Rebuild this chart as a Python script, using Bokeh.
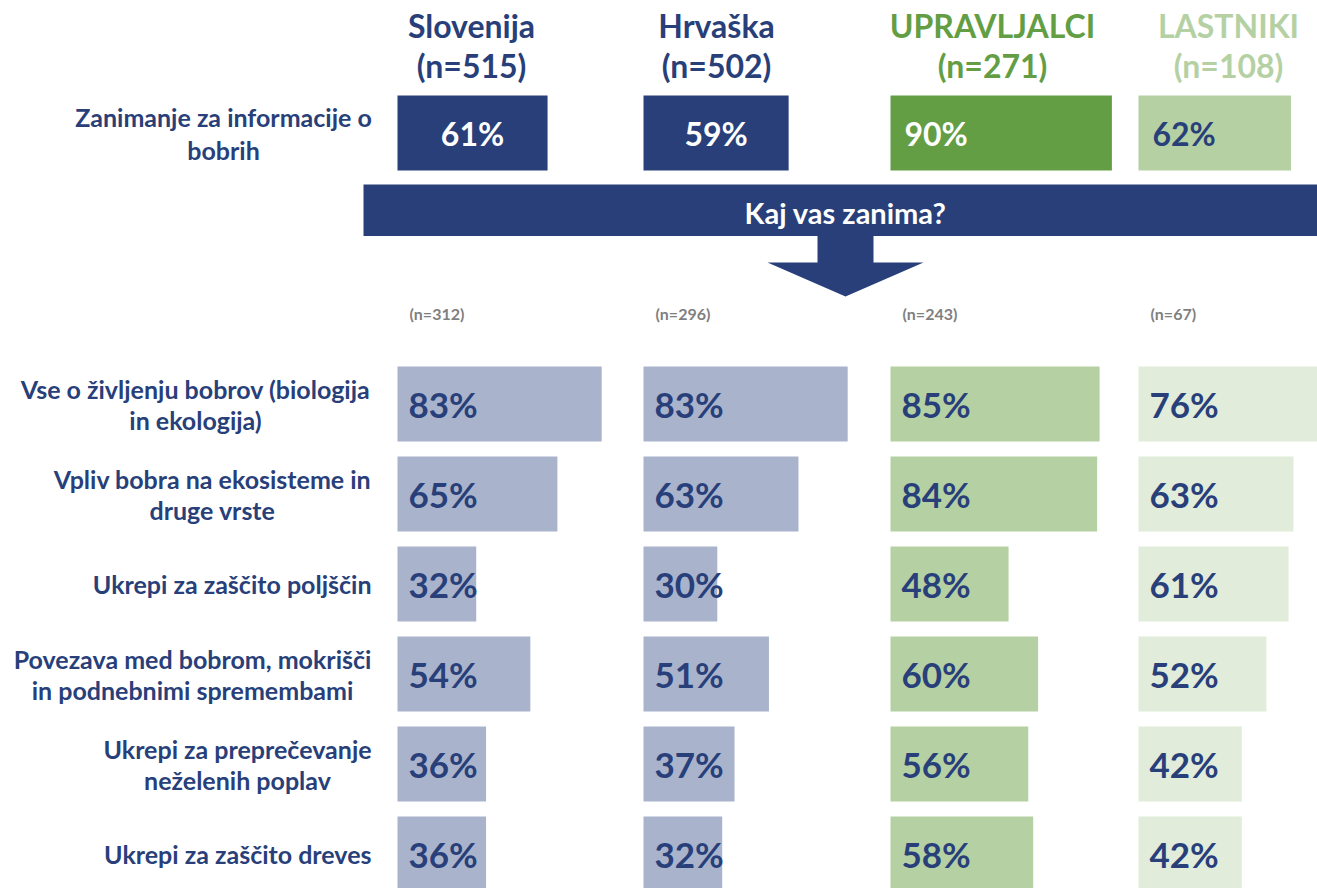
from bokeh.plotting import figure
from bokeh.models import Range1d, ColumnDataSource
from bokeh.core.properties import value
from bokeh.embed import file_html
from bokeh.resources import INLINE

# ---------------- data ----------------
groups = ["Slovenija", "Hrvaška", "UPRAVLJALCI", "LASTNIKI"]
group_n = [515, 502, 271, 108]
interest = [61, 59, 90, 62]          # Zanimanje za informacije o bobrih (%)
sub_n = [312, 296, 243, 67]
top_label = ["Zanimanje za informacije o", "bobrih"]
topics = [
    ["Vse o življenju bobrov (biologija", "in ekologija)"],
    ["Vpliv bobra na ekosisteme in", "druge vrste"],
    ["Ukrepi za zaščito poljščin"],
    ["Povezava med bobrom, mokrišči", "in podnebnimi spremembami"],
    ["Ukrepi za preprečevanje", "neželenih poplav"],
    ["Ukrepi za zaščito dreves"],
]
slovenija = [83, 65, 32, 54, 36, 36]
hrvaska = [83, 63, 30, 51, 37, 32]
upravljalci = [85, 84, 48, 60, 56, 58]
lastniki = [76, 63, 61, 52, 42, 42]
series = [slovenija, hrvaska, upravljalci, lastniki]

# ---------------- style / layout ----------------
NAVY = "#283F7A"
GREEN = "#639E44"
LGREEN = "#B5D1A4"
GRAY = "#7F7F7F"
head_colors = [NAVY, NAVY, GREEN, LGREEN]
box_colors = [NAVY, NAVY, GREEN, LGREEN]
box_text_colors = ["white", "white", "white", NAVY]
box_text_center = [True, True, False, False]
bar_colors = ["#A9B4CC", "#A9B4CC", "#B5D1A4", "#E1ECDA"]
FONT = "Lato"

W, H = 1317, 888
X0, X1 = 0, W              # page-pixel coordinate frame
Y0, Y1 = 0, H
col_start = [397, 643, 890, 1138]
head_center = [471, 716, 992, 1228]
PX_PER_PCT = 2.46
ROW0_C, ROW_STEP, BAR_H = 403.5, 90.0, 75.0
TOP_C = 132.5

p = figure(width=W, height=H, output_backend="svg", toolbar_location=None,
           x_range=Range1d(X0, X1), y_range=Range1d(Y1, Y0),
           min_border=0, outline_line_color=None, background_fill_color="white")
p.axis.visible = False
p.grid.visible = False

# per-row range (row index -> vertical position)
p.extra_y_ranges["rows"] = Range1d((Y1 - ROW0_C) / ROW_STEP, (Y0 - ROW0_C) / ROW_STEP)

for c in range(4):
    name = f"col{c}"
    p.extra_x_ranges[name] = Range1d((X0 - col_start[c]) / PX_PER_PCT,
                                     (X1 - col_start[c]) / PX_PER_PCT)

# ---------------- banner + arrow ----------------
p.quad(left=363, right=X1, top=184, bottom=235.5, color=NAVY, line_color=None)
p.patch(x=[817, 873, 873, 923, 845, 767, 817], y=[235, 235, 262, 262, 296, 262, 262],
        color=NAVY, line_color=None)
p.text(x=[845], y=[212], text=["Kaj vas zanima?"], text_align="center", text_baseline="middle",
       text_font=value(FONT), text_font_style="bold", text_font_size="29px", text_color="white")

# ---------------- headers ----------------
p.text(x=head_center, y=[25] * 4, text=groups, text_align="center", text_baseline="middle",
       text_font=value(FONT), text_font_style="bold", text_font_size="32px", text_color=head_colors)
p.text(x=head_center, y=[65] * 4, text=[f"(n={n})" for n in group_n], text_align="center",
       text_baseline="middle", text_font=value(FONT), text_font_style="bold",
       text_font_size="32px", text_color=head_colors)

# ---------------- left labels ----------------
LABEL_RIGHT = 371
LABEL_SIZE = "25px"
label_centers = [195, 212, None, 192, 237, None]
p.text(x=[223, 223], y=[TOP_C - 16.5, TOP_C + 16.5], text=top_label, text_align="center",
       text_baseline="middle", text_font=value(FONT), text_font_style="bold",
       text_font_size=LABEL_SIZE, text_color=NAVY)
for i, lines in enumerate(topics):
    yc = ROW0_C + i * ROW_STEP
    if len(lines) == 1:
        p.text(x=[LABEL_RIGHT], y=[yc], text=lines, text_align="right", text_baseline="middle",
               text_font=value(FONT), text_font_style="bold", text_font_size=LABEL_SIZE,
               text_color=NAVY)
    else:
        cx = label_centers[i]
        p.text(x=[cx, cx], y=[yc - 15.5, yc + 15.5], text=lines, text_align="center",
               text_baseline="middle", text_font=value(FONT), text_font_style="bold",
               text_font_size=LABEL_SIZE, text_color=NAVY)

# ---------------- bars ----------------
rows = list(range(len(topics)))
for c in range(4):
    name = f"col{c}"
    # top box
    p.hbar(y=[TOP_C], height=BAR_H, left=0, right=[interest[c]], color=box_colors[c],
           line_color=None, x_range_name=name)
    if box_text_center[c]:
        p.text(x=[interest[c] / 2], y=[TOP_C], text=[f"{interest[c]}%"], text_align="center",
               text_baseline="middle", text_font=value(FONT), text_font_style="bold",
               text_font_size="32px", text_color=box_text_colors[c], x_range_name=name)
    else:
        p.text(x=[0], y=[TOP_C], text=[f"{interest[c]}%"], x_offset=14, text_align="left",
               text_baseline="middle", text_font=value(FONT), text_font_style="bold",
               text_font_size="32px", text_color=box_text_colors[c], x_range_name=name)
    # sub-sample n
    p.text(x=[0], y=[313], text=[f"(n={sub_n[c]})"], x_offset=12, text_align="left",
           text_baseline="middle", text_font=value(FONT), text_font_style="bold",
           text_font_size="16px", text_color=GRAY, x_range_name=name)
    # topic bars
    src = ColumnDataSource(dict(row=rows, v=series[c], lab=[f"{v}%" for v in series[c]]))
    p.hbar(y="row", height=BAR_H / ROW_STEP, left=0, right="v", source=src,
           color=bar_colors[c], line_color=None, x_range_name=name, y_range_name="rows")
    p.text(x=0, y="row", text="lab", source=src, x_offset=11, text_align="left",
           text_baseline="middle", text_font=value(FONT), text_font_style="bold",
           text_font_size="35px", text_color=NAVY, x_range_name=name, y_range_name="rows")

open("out.html", "w").write(file_html(p, INLINE))
